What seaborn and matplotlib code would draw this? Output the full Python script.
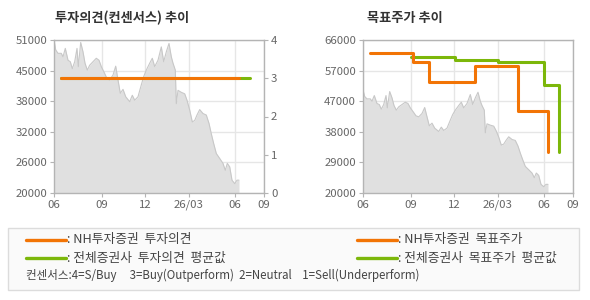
import matplotlib
matplotlib.use("Agg")
import matplotlib.pyplot as plt
from matplotlib.patches import Rectangle
from matplotlib.lines import Line2D
import seaborn as sns
import pandas as pd

# Data (x in chart position units, 0 = Jun, 210 = Sep of next year)
price_x = [0, 1.7, 4, 7.3, 9, 11.3, 14, 16.3, 18.3, 20.7, 23, 24.3, 26.7, 29, 31,
           33.3, 35.7, 39, 42.3, 45, 47.3, 50.7, 53, 55.7, 59, 61.7, 64, 66.3, 69,
           71.7, 75.7, 78.3, 80.7, 84, 87.3, 89.7, 92.3, 95.7, 98.3, 100.7, 104,
           107.3, 109.7, 112.3, 115, 117.3, 119, 121.3, 122.3, 124, 127.3, 130.7,
           133, 135.7, 138.3, 140.7, 143, 145.7, 149, 152.3, 155, 157.3, 159.7,
           162.3, 165.7, 169, 171.3, 173.3, 175.7, 178, 180.7, 183, 185]
price = [51000, 49000, 48300, 48300, 47600, 49300, 46900, 46600, 45200, 46600,
         49300, 45600, 50500, 48600, 46300, 44900, 45900, 46600, 47300, 46900,
         45600, 44200, 43200, 42900, 43900, 45700, 42900, 40200, 41000, 39500,
         38500, 39800, 38800, 39500, 41900, 43600, 44900, 46300, 47300, 45600,
         46900, 49600, 46600, 48600, 50300, 47600, 46300, 44900, 38100, 40800,
         40400, 40100, 38800, 36800, 34400, 34700, 35800, 36900, 36100, 35800,
         34100, 32000, 30000, 28000, 27000, 26000, 24600, 26000, 25300, 22600,
         21900, 22600, 22600]

opinion_nh_x = [6.7, 185]
opinion_nh = [3, 3]
opinion_avg_x = [6.7, 196.3]
opinion_avg = [3, 3]

target_nh_x = [6.7, 50, 65.7, 111.7, 155.3, 185]
target_nh = [62000, 59500, 53500, 58300, 44700, 32400]
target_avg_x = [47.7, 91.7, 135, 180.7, 195.7]
target_avg = [61000, 60000, 59400, 52500, 32400]

tick_pos = [0, 48, 91, 135, 181, 210]
tick_labels = ["06", "09", "12", "26/03", "06", "09"]
left_yticks = [20000, 26200, 32400, 38600, 44800, 51000]
left_ylabels = ["20000", "26000", "32000", "38000", "45000", "51000"]
right_yticks = [20000, 29200, 38400, 47600, 56800, 66000]
right_ylabels = ["20000", "29000", "38000", "47000", "57000", "66000"]

ORANGE = "#f27405"
GREEN = "#7cb70a"
GRID = "#e6e6e6"
SPINE = "#b4b4b4"
TXT = "#666666"

sns.set_theme(style="white")
plt.rcParams["font.family"] = ["Noto Sans CJK KR", "DejaVu Sans"]

fig = plt.figure(figsize=(5.9, 3.0), dpi=100)
ax1 = fig.add_axes([54 / 590, 1 - 193 / 300, 210 / 590, 153 / 300])
ax2 = fig.add_axes([363 / 590, 1 - 193 / 300, 210 / 590, 153 / 300])

df_price = pd.DataFrame({"x": price_x, "price": price})


def style_axes(ax, yticks, ylabels):
    ax.set_xlim(0, 210)
    ax.set_ylim(yticks[0], yticks[-1])
    ax.set_xticks(tick_pos)
    ax.set_xticklabels(tick_labels)
    ax.set_yticks(yticks)
    ax.set_yticklabels(ylabels)
    ax.grid(True, color=GRID, linewidth=1.0)
    ax.set_axisbelow(True)
    for s in ax.spines.values():
        s.set_color(SPINE)
        s.set_linewidth(1.0)
    ax.tick_params(axis="both", colors=SPINE, labelcolor=TXT, labelsize=8.2,
                   length=3, width=0.8, pad=2, direction="out",
                   bottom=True, left=True)
    ax.set_xlabel("")
    ax.set_ylabel("")


def draw_price(ax):
    ax.fill_between(df_price["x"], df_price["price"], 0, color="#e0e0e0",
                    linewidth=0, zorder=1)
    sns.lineplot(data=df_price, x="x", y="price", ax=ax, color="#c8c8c8",
                 linewidth=0.8, zorder=2)


# Left chart: investment opinion
draw_price(ax1)
style_axes(ax1, left_yticks, left_ylabels)
ax1r = ax1.twinx()
sns.lineplot(x=opinion_avg_x, y=opinion_avg, ax=ax1r, color=GREEN, linewidth=2.2)
sns.lineplot(x=opinion_nh_x, y=opinion_nh, ax=ax1r, color=ORANGE, linewidth=2.2)
ax1r.set_ylim(0, 4)
ax1r.set_yticks([0, 1, 2, 3, 4])
ax1r.grid(False)
for s in ax1r.spines.values():
    s.set_visible(False)
ax1r.tick_params(axis="y", colors=SPINE, labelcolor=TXT, labelsize=8.2,
                 length=3, width=0.8, pad=2, right=True, direction="out")
ax1r.set_ylabel("")
ax1.set_xlim(0, 210)

# Right chart: target price
draw_price(ax2)
sns.lineplot(x=target_avg_x, y=target_avg, ax=ax2, color=GREEN, linewidth=2.2,
             drawstyle="steps-post", zorder=3)
sns.lineplot(x=target_nh_x, y=target_nh, ax=ax2, color=ORANGE, linewidth=2.2,
             drawstyle="steps-post", zorder=4)
style_axes(ax2, right_yticks, right_ylabels)

# Titles
fig.text(55 / 590, 1 - 18 / 300, "투자의견(컨센서스) 추이", fontsize=9.5,
         fontweight="bold", color="#333333", va="center", ha="left")
fig.text(367 / 590, 1 - 18 / 300, "목표주가 추이", fontsize=9.5,
         fontweight="bold", color="#333333", va="center", ha="left")

# Legend box
fig.patches.append(Rectangle((8 / 590, 1 - 290 / 300), 571 / 590, 62 / 300,
                             transform=fig.transFigure, facecolor="#fafafa",
                             edgecolor="#dcdcdc", linewidth=1.0, zorder=0))
legend_items = [
    (26, 66, 240, ORANGE, ": NH투자증권  투자의견"),
    (26, 66, 258, GREEN, ": 전체증권사  투자의견  평균값"),
    (357, 397, 240, ORANGE, ": NH투자증권  목표주가"),
    (357, 397, 258, GREEN, ": 전체증권사  목표주가  평균값"),
]
for x0, x1, y, c, label in legend_items:
    fig.lines.append(Line2D([x0 / 590, x1 / 590], [1 - y / 300, 1 - y / 300],
                            transform=fig.transFigure, color=c, linewidth=2.4))
    fig.text((x1 + 1) / 590, 1 - y / 300, label, fontsize=9.2, color="#444444",
             va="center", ha="left")
fig.text(26 / 590, 1 - 275 / 300,
         "컨센서스:4=S/Buy     3=Buy(Outperform)  2=Neutral    1=Sell(Underperform)",
         fontsize=8.3, color="#444444", va="center", ha="left")

fig.savefig("out.png", dpi=100, facecolor="white")
